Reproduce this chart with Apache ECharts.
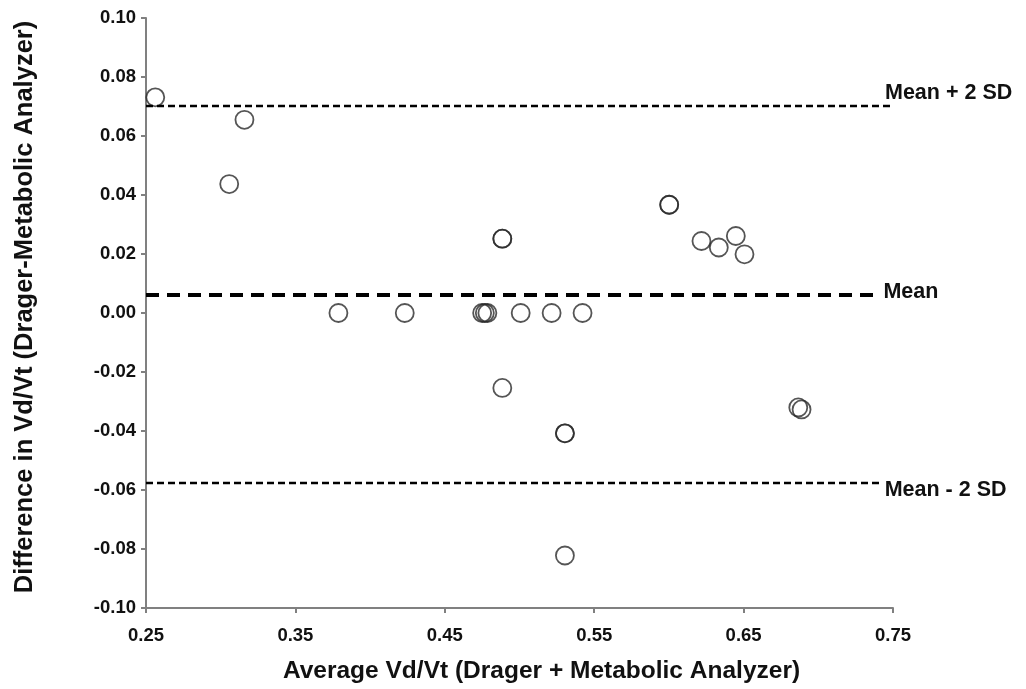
<!DOCTYPE html>
<html>
<head>
<meta charset="utf-8">
<script src="https://cdn.jsdelivr.net/npm/echarts@6/dist/echarts.min.js"></script>
<style>
  html, body { margin: 0; padding: 0; background: #fff; }
  #chart { width: 1026px; height: 689px; }
</style>
</head>
<body>
<div id="chart"></div>
<script>
// Bland-Altman: Drager vs Metabolic Analyzer
const avgVdVt = [0.2562, 0.3159, 0.3057, 0.4885, 0.4885,
  0.3788, 0.4232, 0.4750, 0.4768, 0.4785, 0.5008, 0.5215, 0.5422,
  0.4885, 0.5304, 0.5304, 0.5304,
  0.6002, 0.6002, 0.6218, 0.6334, 0.6448, 0.6506,
  0.6866, 0.6888]
const diffVdVt = [0.0731, 0.0655, 0.0437, 0.0252, 0.0252,
  0, 0, 0, 0, 0, 0, 0, 0,
  -0.0254, -0.0408, -0.0408, -0.0822,
  0.0367, 0.0367, 0.0244, 0.0222, 0.0261, 0.0199,
  -0.0320, -0.0327]

const meanDiff = 0.0063
const upperLimit = 0.0703
const lowerLimit = -0.0577

const xTicks = [0.25, 0.35, 0.45, 0.55, 0.65, 0.75]

const font = 'Liberation Sans, Arial, sans-serif'
const axisGrey = '#808080'

const chart = echarts.init(document.getElementById('chart'))

// 参考线：起点在y轴，终点处放文字
const refLine = function(y, endX, label, width, dash, offset) {
  return [
    { coord: [0.25, y], lineStyle: { color: '#000', width: width, type: dash } },
    { coord: [endX, y], label: { formatter: label, offset: offset } }
  ]
}

chart.setOption({
  animation: false,
  grid: { left: 146, right: 133, top: 18, bottom: 81 },
  xAxis: {
    type: 'value',
    min: 0.25,
    max: 0.75,
    name: 'Average Vd/Vt (Drager + Metabolic Analyzer)',
    nameLocation: 'middle',
    nameGap: 51,
    nameTextStyle: { fontFamily: font, fontWeight: 'bold', fontSize: 24.5, color: '#111', padding: [0, 0, 0, 44] },
    axisLine: { onZero: false, lineStyle: { color: axisGrey, width: 2 } },
    axisTick: { show: true, length: 5, customValues: xTicks, lineStyle: { color: axisGrey, width: 2 } },
    axisLabel: {
      customValues: xTicks,
      margin: 18,
      fontFamily: font, fontWeight: 'bold', fontSize: 18.5, color: '#111',
      formatter: v => v.toFixed(2)
    },
    splitLine: { show: false }
  },
  yAxis: {
    type: 'value',
    min: -0.1,
    max: 0.1,
    interval: 0.02,
    name: 'Difference in Vd/Vt (Drager-Metabolic Analyzer)',
    nameLocation: 'middle',
    nameGap: 108,
    nameTextStyle: { fontFamily: font, fontWeight: 'bold', fontSize: 25.5, color: '#111', padding: [0, 0, 0, 12] },
    axisLine: { show: true, lineStyle: { color: axisGrey, width: 2 } },
    axisTick: { show: true, length: 5, lineStyle: { color: axisGrey, width: 2 } },
    axisLabel: {
      margin: 10,
      fontFamily: font, fontWeight: 'bold', fontSize: 18.5, color: '#111',
      formatter: v => v.toFixed(2)
    },
    splitLine: { show: false }
  },
  series: [{
    type: 'scatter',
    data: avgVdVt.map((x, i) => [x, diffVdVt[i]]),
    symbol: 'circle',
    symbolSize: 18,
    itemStyle: { color: 'rgba(255,255,255,0)', borderColor: '#2a2a2a', borderWidth: 1.8 },
    markLine: {
      silent: true,
      symbol: 'none',
      animation: false,
      label: {
        position: 'end',
        distance: 6,
        fontFamily: font, fontWeight: 'bold', fontSize: 21.5, color: '#111'
      },
      data: [
        refLine(upperLimit, 0.75, 'Mean + 2 SD', 2.4, [7, 4], [-14, -13]),
        refLine(meanDiff, 0.7389, 'Mean', 4, [13, 8], [1, -2]),
        refLine(lowerLimit, 0.7424, 'Mean - 2 SD', 2.4, [7, 4], [-3, 7])
      ]
    }
  }]
})
</script>
</body>
</html>
